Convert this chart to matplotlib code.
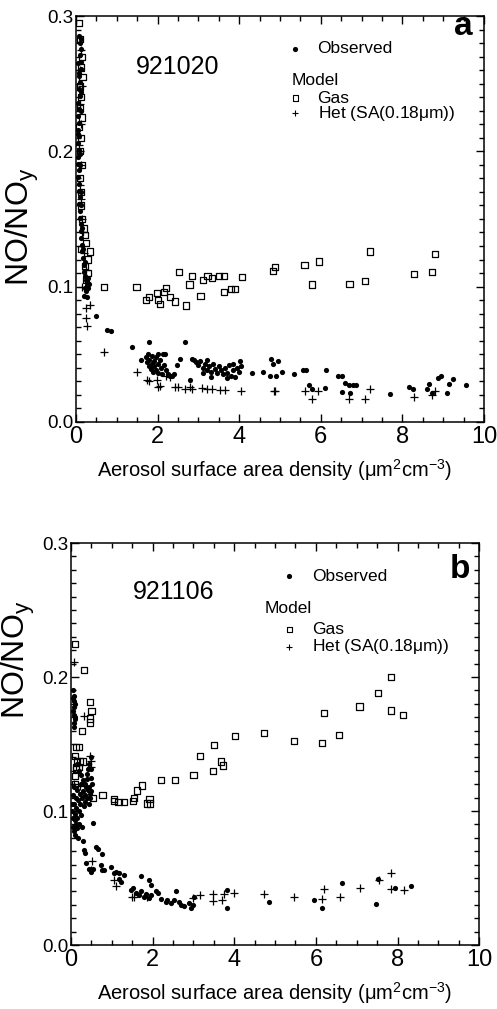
import numpy as np
import matplotlib
matplotlib.use("Agg")
from matplotlib import pyplot as plt
from matplotlib.ticker import MultipleLocator, FormatStrFormatter

plt.rcParams["font.family"] = ["Liberation Sans", "DejaVu Sans"]

# ---- panel a (921020): (surface area, NO/NOy) ----
obs_a = np.array([
    (0.08, 0.285), (0.10, 0.280), (0.12, 0.276), (0.09, 0.271), (0.13, 0.266), (0.11, 0.261),
    (0.08, 0.256), (0.10, 0.251), (0.07, 0.246), (0.09, 0.241), (0.06, 0.236), (0.08, 0.231),
    (0.05, 0.226), (0.07, 0.221), (0.06, 0.216), (0.08, 0.211), (0.05, 0.206), (0.07, 0.201),
    (0.06, 0.196), (0.05, 0.191), (0.07, 0.186), (0.06, 0.181), (0.08, 0.176), (0.07, 0.171),
    (0.09, 0.166), (0.08, 0.161), (0.10, 0.156), (0.09, 0.151), (0.11, 0.146), (0.13, 0.141),
    (0.12, 0.136), (0.15, 0.131), (0.14, 0.126), (0.17, 0.121), (0.19, 0.116), (0.20, 0.111),
    (0.22, 0.108), (0.24, 0.105), (0.26, 0.103), (0.28, 0.101), (0.30, 0.099), (0.25, 0.097),
    (0.20, 0.093), (0.27, 0.092), (0.06, 0.265), (0.11, 0.230), (0.10, 0.190), (0.12, 0.170),
    (0.11, 0.283), (0.07, 0.258), (0.12, 0.244), (0.04, 0.213), (0.09, 0.198), (0.11, 0.160),
    (0.15, 0.143), (0.18, 0.128), (0.23, 0.118), (0.29, 0.106), (0.32, 0.102), (0.22, 0.099),
    (0.50, 0.078), (0.76, 0.068), (0.85, 0.067), (1.37, 0.055), (1.58, 0.046), (1.78, 0.059),
    (2.68, 0.059), (2.56, 0.0465), (2.47, 0.042), (2.31, 0.034), (2.80, 0.031), (2.84, 0.0465),
    (1.72, 0.048), (1.75, 0.044), (1.78, 0.041), (1.80, 0.046), (1.83, 0.039), (1.85, 0.043),
    (1.88, 0.037), (1.90, 0.045), (1.92, 0.041), (1.95, 0.048), (1.97, 0.038), (2.00, 0.043),
    (2.02, 0.036), (2.05, 0.046), (2.08, 0.040), (2.10, 0.035), (2.12, 0.050), (2.15, 0.042),
    (2.18, 0.050), (2.20, 0.038), (2.25, 0.035), (1.76, 0.050), (1.86, 0.049), (2.00, 0.050),
    (2.35, 0.034), (2.40, 0.035),
    (2.90, 0.046), (2.95, 0.044), (3.00, 0.042), (3.05, 0.045), (3.10, 0.040), (3.15, 0.043),
    (3.20, 0.038), (3.22, 0.046), (3.25, 0.041), (3.30, 0.037), (3.35, 0.043), (3.40, 0.039),
    (3.45, 0.036), (3.50, 0.041), (3.55, 0.038), (3.60, 0.035), (3.65, 0.040), (3.70, 0.036),
    (3.75, 0.042), (3.80, 0.034), (3.85, 0.038), (3.90, 0.033), (3.95, 0.040), (4.00, 0.037),
    (4.05, 0.041), (3.10, 0.036), (3.30, 0.033), (3.70, 0.032), (3.85, 0.043),
    (4.02, 0.045), (4.32, 0.036), (4.57, 0.037), (4.78, 0.0465), (4.96, 0.045), (4.76, 0.0335),
    (5.04, 0.0365), (5.35, 0.035), (5.56, 0.038), (5.64, 0.038), (5.72, 0.0275), (5.78, 0.024),
    (6.09, 0.025), (6.13, 0.038), (6.41, 0.034), (6.51, 0.0335), (6.51, 0.022), (6.60, 0.0285),
    (6.70, 0.027), (6.78, 0.0275), (6.86, 0.027), (6.72, 0.0215), (7.70, 0.0205), (8.15, 0.0255),
    (8.25, 0.024), (8.64, 0.028), (8.60, 0.0245), (8.72, 0.021), (8.87, 0.032), (8.95, 0.0335),
    (9.09, 0.0215), (9.15, 0.028), (9.25, 0.0315), (9.55, 0.027), (4.82, 0.043), (4.90, 0.034),
])
gas_a = np.array([
    (0.08, 0.295), (0.10, 0.283), (0.14, 0.270), (0.12, 0.262), (0.16, 0.255), (0.09, 0.248),
    (0.13, 0.240), (0.10, 0.232), (0.15, 0.225), (0.08, 0.218), (0.12, 0.210), (0.10, 0.200),
    (0.14, 0.190), (0.10, 0.180), (0.13, 0.170), (0.12, 0.160), (0.15, 0.150), (0.20, 0.143),
    (0.22, 0.138), (0.25, 0.132), (0.35, 0.126), (0.28, 0.120), (0.22, 0.115), (0.30, 0.110),
    (0.25, 0.105), (0.12, 0.128),
    (0.68, 0.0995), (1.48, 0.0995), (1.72, 0.090), (1.78, 0.0925), (1.98, 0.095), (2.00, 0.090),
    (2.05, 0.087), (2.15, 0.096), (2.20, 0.099), (2.31, 0.0925), (2.42, 0.089), (2.52, 0.111),
    (2.69, 0.086), (2.78, 0.1015), (2.84, 0.108), (3.05, 0.093), (3.11, 0.105), (3.22, 0.108),
    (3.33, 0.1065), (3.50, 0.108), (3.62, 0.108), (3.62, 0.096), (3.80, 0.098), (3.90, 0.098),
    (4.06, 0.107), (4.82, 0.1115), (4.87, 0.1145), (5.60, 0.116), (5.78, 0.1015), (5.96, 0.1185),
    (6.70, 0.102), (7.09, 0.104), (7.21, 0.126), (8.29, 0.109), (8.73, 0.111), (8.80, 0.124),
])
het_a = np.array([
    (0.12, 0.275), (0.10, 0.260), (0.15, 0.248), (0.09, 0.235), (0.11, 0.220), (0.08, 0.205),
    (0.13, 0.190), (0.10, 0.175), (0.12, 0.165), (0.14, 0.150), (0.18, 0.140), (0.20, 0.125),
    (0.25, 0.112), (0.15, 0.100),
    (0.25, 0.0845), (0.33, 0.086), (0.25, 0.0765), (0.27, 0.071), (0.69, 0.0515), (1.49, 0.037),
    (1.75, 0.031), (1.80, 0.030), (1.98, 0.031), (2.00, 0.026), (2.05, 0.0266), (2.21, 0.034),
    (2.31, 0.033), (2.43, 0.0256), (2.51, 0.0256), (2.68, 0.024), (2.80, 0.0256), (2.84, 0.024),
    (3.08, 0.025), (3.20, 0.024), (3.33, 0.024), (3.53, 0.0236), (3.66, 0.0236), (4.05, 0.0224),
    (4.84, 0.0224), (4.88, 0.023), (5.60, 0.0224), (5.78, 0.017), (5.94, 0.023), (6.70, 0.017),
    (7.09, 0.0167), (7.21, 0.024), (8.29, 0.018), (8.73, 0.020), (8.80, 0.0224),
])

# ---- panel b (921106) ----
obs_b = np.array([
    (0.05, 0.190), (0.07, 0.186), (0.06, 0.182), (0.08, 0.178), (0.05, 0.175), (0.07, 0.172),
    (0.09, 0.169), (0.06, 0.166), (0.08, 0.163), (0.10, 0.170), (0.04, 0.184), (0.09, 0.180),
    (0.15, 0.135), (0.20, 0.130), (0.25, 0.127), (0.30, 0.123), (0.35, 0.120), (0.40, 0.128),
    (0.45, 0.135), (0.48, 0.140), (0.50, 0.125), (0.45, 0.118), (0.50, 0.115), (0.47, 0.110),
    (0.52, 0.120), (0.42, 0.131), (0.38, 0.124), (0.50, 0.131),
    (0.03, 0.100), (0.05, 0.095), (0.07, 0.105), (0.09, 0.098), (0.11, 0.110), (0.13, 0.102),
    (0.15, 0.095), (0.17, 0.108), (0.19, 0.100), (0.21, 0.113), (0.23, 0.105), (0.25, 0.097),
    (0.27, 0.110), (0.29, 0.115), (0.31, 0.104), (0.33, 0.112), (0.35, 0.107), (0.37, 0.118),
    (0.40, 0.110), (0.42, 0.116), (0.44, 0.105), (0.46, 0.113), (0.05, 0.088), (0.08, 0.085),
    (0.12, 0.090), (0.10, 0.082), (0.15, 0.087), (0.18, 0.080), (0.20, 0.090), (0.04, 0.112),
    (0.02, 0.105), (0.06, 0.118), (0.14, 0.116), (0.24, 0.120), (0.10, 0.093), (0.26, 0.088),
    (0.53, 0.091), (0.29, 0.078), (0.61, 0.0734), (0.65, 0.072), (0.76, 0.068), (0.31, 0.071),
    (0.33, 0.069), (0.37, 0.061), (0.45, 0.057), (0.50, 0.0547), (0.53, 0.057), (0.73, 0.0597),
    (0.75, 0.056), (0.81, 0.056), (0.98, 0.0585), (1.06, 0.0535), (1.10, 0.0547), (1.18, 0.0535),
    (1.18, 0.049), (1.30, 0.052), (1.22, 0.047), (1.71, 0.0517), (1.92, 0.0485), (1.96, 0.0448),
    (1.47, 0.041), (1.51, 0.0423), (1.60, 0.039), (1.66, 0.037), (1.72, 0.040), (1.78, 0.036),
    (1.84, 0.038), (1.90, 0.035), (1.96, 0.037), (2.08, 0.040), (2.12, 0.039), (2.20, 0.034),
    (2.32, 0.032), (2.36, 0.0336), (2.44, 0.031), (2.57, 0.0405), (2.53, 0.0336), (2.65, 0.032),
    (2.77, 0.029), (2.89, 0.031), (3.00, 0.030), (3.02, 0.036), (2.70, 0.030), (2.95, 0.028),
    (3.81, 0.041), (3.81, 0.0274), (4.85, 0.0318), (5.95, 0.0336), (6.15, 0.0274), (6.63, 0.0465),
    (7.51, 0.0493), (7.48, 0.0303), (7.95, 0.0423), (8.34, 0.0443),
])
gas_b = np.array([
    (0.10, 0.2246), (0.31, 0.205), (0.47, 0.1816), (0.50, 0.1746), (0.47, 0.169), (0.47, 0.166),
    (0.26, 0.160), (0.12, 0.148), (0.20, 0.148), (0.10, 0.141), (0.15, 0.137), (0.22, 0.137),
    (0.28, 0.137), (0.12, 0.133), (0.20, 0.133), (0.13, 0.1315), (0.10, 0.126), (0.09, 0.120),
    (0.53, 0.110), (0.77, 0.112), (1.06, 0.1075), (1.06, 0.109), (1.16, 0.1067), (1.30, 0.1067),
    (1.51, 0.1075), (1.55, 0.110), (1.61, 0.1154), (1.74, 0.119), (1.86, 0.1057), (1.94, 0.1057),
    (1.92, 0.1087), (2.20, 0.123), (2.55, 0.123), (3.00, 0.1266), (3.16, 0.141), (3.48, 0.130),
    (3.50, 0.149), (3.67, 0.137), (3.73, 0.134), (4.01, 0.156), (4.73, 0.158), (5.46, 0.152),
    (6.15, 0.1505), (6.19, 0.173), (6.56, 0.157), (7.07, 0.178), (7.52, 0.188), (7.85, 0.1998),
    (7.85, 0.175), (8.14, 0.1716),
])
het_b = np.array([
    (0.08, 0.211), (0.31, 0.171), (0.47, 0.141), (0.50, 0.137), (0.49, 0.133), (0.08, 0.120),
    (0.23, 0.119), (0.51, 0.0627), (0.49, 0.056), (1.06, 0.0485), (1.10, 0.044), (1.50, 0.036),
    (1.55, 0.036), (1.87, 0.036), (3.00, 0.035), (3.16, 0.0373), (3.49, 0.038), (3.49, 0.033),
    (3.71, 0.0336), (3.75, 0.038), (3.99, 0.0386), (4.73, 0.038), (5.46, 0.0356), (6.19, 0.0415),
    (6.14, 0.034), (6.59, 0.0356), (7.07, 0.0423), (7.54, 0.0485), (7.85, 0.0535), (7.85, 0.0415),
    (8.15, 0.041),
])

panels = [
    dict(obs=obs_a, gas=gas_a, het=het_a, date="921020", letter="a",
         rect=[0.153, 0.582, 0.821, 0.402],
         leg_x=0.537, leg_y=[0.919, 0.842, 0.798, 0.761], model_x=0.529,
         letter_pos=(0.973, 0.975), date_pos=(0.25, 0.874),
         ylab=(0.046, 0.775), xlab=(0.553, 0.534)),
    dict(obs=obs_b, gas=gas_b, het=het_b, date="921106", letter="b",
         rect=[0.143, 0.0634, 0.821, 0.3984],
         leg_x=0.535, leg_y=[0.918, 0.838, 0.785, 0.742], model_x=0.475,
         letter_pos=(0.978, 0.935), date_pos=(0.252, 0.879),
         ylab=(0.038, 0.346), xlab=(0.553, 0.016)),
]

fig = plt.figure(figsize=(4.97, 10.09), dpi=100)
for p in panels:
    ax = fig.add_axes(p["rect"])
    ax.scatter(p["obs"][:, 0], p["obs"][:, 1], s=14, c="black", marker="o", lw=0)
    ax.scatter(p["gas"][:, 0], p["gas"][:, 1], s=20, facecolors="none", edgecolors="black",
               marker="s", lw=0.9)
    ax.scatter(p["het"][:, 0], p["het"][:, 1], s=26, c="black", marker="+", lw=0.9)
    ax.set_xlim(0, 10)
    ax.set_ylim(0, 0.3)
    ax.xaxis.set_major_locator(MultipleLocator(2))
    ax.xaxis.set_minor_locator(MultipleLocator(0.5))
    ax.yaxis.set_major_locator(MultipleLocator(0.1))
    ax.yaxis.set_minor_locator(MultipleLocator(0.01))
    ax.tick_params(which="both", direction="in", top=True, right=True, width=1)
    ax.tick_params(which="major", length=6)
    ax.tick_params(which="minor", length=3.5)
    ax.tick_params(axis="x", labelsize=17, pad=3)
    ax.tick_params(axis="y", labelsize=13.5, pad=2)
    ax.yaxis.set_major_formatter(FormatStrFormatter("%.1f"))
    for s in ax.spines.values():
        s.set_linewidth(1.1)

    fig.text(*p["xlab"], r"Aerosol surface area density ($\mathregular{\mu m^2 cm^{-3}}$)",
             fontsize=14.5, ha="center", va="center")
    fig.text(*p["ylab"], r"NO/NO$\mathregular{_y}$", fontsize=23, rotation=90,
             ha="center", va="center")

    ax.text(*p["date_pos"], p["date"], transform=ax.transAxes, fontsize=18,
            ha="center", va="center")
    ax.text(*p["letter_pos"], p["letter"], transform=ax.transAxes, fontsize=24,
            fontweight="bold", ha="right", va="center")

    lx = p["leg_x"]
    ly = p["leg_y"]
    tx = lx + 0.055
    ax.scatter([lx], [ly[0]], transform=ax.transAxes, s=14, c="black", lw=0)
    ax.text(tx, ly[0], "Observed", transform=ax.transAxes, fontsize=12.5, va="center")
    ax.text(p["model_x"], ly[1], "Model", transform=ax.transAxes, fontsize=12.5, va="center")
    ax.scatter([lx], [ly[2]], transform=ax.transAxes, s=14, facecolors="none",
               edgecolors="black", marker="s", lw=0.8)
    ax.text(tx, ly[2], "Gas", transform=ax.transAxes, fontsize=12.5, va="center")
    ax.scatter([lx], [ly[3]], transform=ax.transAxes, s=22, c="black", marker="+", lw=0.8)
    ax.text(tx, ly[3], r"Het (SA(0.18$\mathregular{\mu}$m))", transform=ax.transAxes,
            fontsize=12.5, va="center")

fig.savefig("out.png", dpi=100)
